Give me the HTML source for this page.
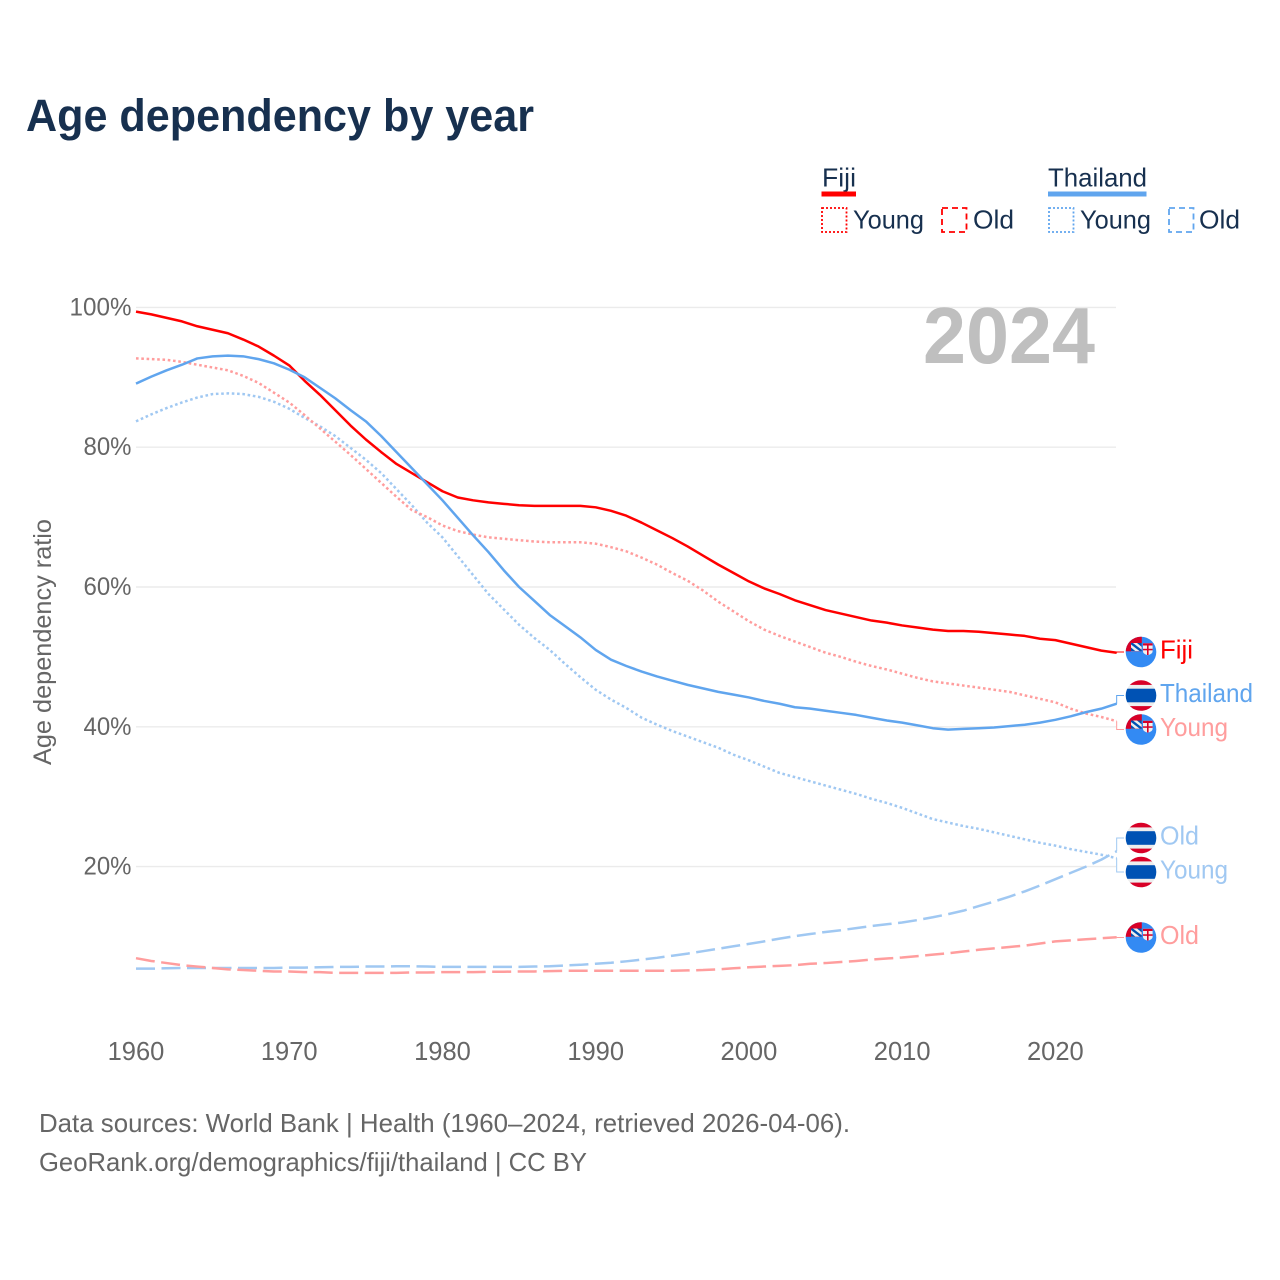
<!DOCTYPE html>
<html lang="en">
<head>
<meta charset="utf-8">
<title>Age dependency by year</title>
<style>
html,body{margin:0;padding:0;background:#fff;}
svg{display:block;font-family:"Liberation Sans",sans-serif;}
</style>
</head>
<body>
<svg id="chart" width="1280" height="1280" viewBox="0 0 1280 1280" xmlns="http://www.w3.org/2000/svg">
  <defs>
    <clipPath id="flag-clip"><circle cx="0" cy="0" r="15.3"></circle></clipPath>
    <clipPath id="union-clip"><rect x="-10" y="-9" width="10.8" height="8.3"></rect></clipPath>
    <g id="flag-th" clip-path="url(#flag-clip)">
      <rect x="-16" y="-16" width="32" height="32" fill="#eeeeee"></rect>
      <rect x="-16" y="-16" width="32" height="5.4" fill="#d80027"></rect>
      <rect x="-16" y="10.6" width="32" height="5.4" fill="#d80027"></rect>
      <rect x="-16" y="-6.8" width="32" height="13.6" fill="#0052b4"></rect>
    </g>
    <g id="flag-fj" clip-path="url(#flag-clip)">
      <rect x="-16" y="-16" width="32" height="32" fill="#338af3"></rect>
      <rect x="-16" y="-16" width="16.8" height="15.3" fill="#d80027"></rect>
      <g clip-path="url(#union-clip)">
        <rect x="-10" y="-9" width="10.8" height="8.3" fill="#eeeeee"></rect>
        <path d="M-10 -9 L0.8 -0.7" stroke="#0052b4" stroke-width="2.4" fill="none"></path>
        <path d="M-10 -1 L-5.5 -0.7 L-10 -4.5 Z" fill="#0052b4"></path>
        <path d="M-4 -9 L0.8 -9 L0.8 -5 Z" fill="#0052b4"></path>
      </g>
      <path d="M2 -8.7 H11.6 V-0.5 Q11.6 2 6.8 3.2 Q2 2 2 -0.5 Z" fill="#f0f0f0"></path>
      <rect x="2" y="-8.7" width="9.6" height="2.2" fill="#d80027"></rect>
      <rect x="6" y="-6.5" width="1.6" height="9.5" fill="#d80027"></rect>
      <rect x="2" y="-3.2" width="9.6" height="1.5" fill="#d80027"></rect>
    </g>
  </defs>

  <rect x="0" y="0" width="1280" height="1280" fill="#ffffff"></rect>

  <text x="26" y="131" font-size="45" font-weight="700" fill="#17304f" textLength="508" lengthAdjust="spacingAndGlyphs">Age dependency by year</text>

  <g font-size="26" fill="#17304f">
    <text x="822" y="186.5" textLength="34" lengthAdjust="spacingAndGlyphs">Fiji</text>
    <rect x="821.5" y="191.5" width="34.5" height="5" fill="#ff0000"></rect>
    <text x="1048" y="186.5" textLength="99" lengthAdjust="spacingAndGlyphs">Thailand</text>
    <rect x="1048" y="191.5" width="98.5" height="5" fill="#60a5ee"></rect>

    <rect x="822" y="208" width="24.5" height="24" fill="none" stroke="#ff0000" stroke-width="1.8" stroke-dasharray="2 2"></rect>
    <text x="853" y="228.5" textLength="71" lengthAdjust="spacingAndGlyphs">Young</text>
    <rect x="942" y="208" width="24.5" height="24" fill="none" stroke="#ff0000" stroke-width="1.8" stroke-dasharray="6 4"></rect>
    <text x="973" y="228.5" textLength="41" lengthAdjust="spacingAndGlyphs">Old</text>
    <rect x="1049" y="208" width="24.5" height="24" fill="none" stroke="#60a5ee" stroke-width="1.8" stroke-dasharray="2 2"></rect>
    <text x="1080" y="228.5" textLength="71" lengthAdjust="spacingAndGlyphs">Young</text>
    <rect x="1169" y="208" width="24.5" height="24" fill="none" stroke="#60a5ee" stroke-width="1.8" stroke-dasharray="6 4"></rect>
    <text x="1199" y="228.5" textLength="41" lengthAdjust="spacingAndGlyphs">Old</text>
  </g>

  <g id="grid"></g>
  <g id="y-ticks"></g>
  <g id="x-ticks"></g>

  <text transform="translate(51 765) rotate(-90)" font-size="25" fill="#666666" textLength="246" lengthAdjust="spacingAndGlyphs">Age dependency ratio</text>

  <text x="1095" y="363" text-anchor="end" font-size="80" font-weight="700" fill="#bfbfbf" textLength="172" lengthAdjust="spacingAndGlyphs">2024</text>

  <g id="series"></g>
  <g id="leaders"></g>
  <g id="end-labels"></g>

  <g font-size="26" fill="#666666">
    <text x="39" y="1132" textLength="811" lengthAdjust="spacingAndGlyphs">Data sources: World Bank | Health (1960–2024, retrieved 2026-04-06).</text>
    <text x="39" y="1171" textLength="548" lengthAdjust="spacingAndGlyphs">GeoRank.org/demographics/fiji/thailand | CC BY</text>
  </g>
</svg>

<script>
var startYear = 1960;
var xTickYears = [1960, 1970, 1980, 1990, 2000, 2010, 2020];
var yTickValues = [20, 40, 60, 80, 100];
var yTickLabels = ['20%', '40%', '60%', '80%', '100%'];

var fijiTotal = [99.4,99.0,98.5,98.0,97.3,96.8,96.3,95.4,94.4,93.1,91.7,89.5,87.5,85.3,83.1,81.1,79.3,77.6,76.3,75.0,73.7,72.8,72.4,72.1,71.9,71.7,71.6,71.6,71.6,71.6,71.4,70.9,70.2,69.2,68.1,67.0,65.8,64.5,63.2,62.0,60.8,59.8,59.0,58.1,57.4,56.7,56.2,55.7,55.2,54.9,54.5,54.2,53.9,53.7,53.7,53.6,53.4,53.2,53.0,52.6,52.4,51.9,51.4,50.9,50.6];
var fijiYoung = [92.7,92.6,92.5,92.2,91.8,91.4,91.0,90.2,89.2,87.8,86.4,84.6,82.7,80.8,78.9,76.9,74.9,72.9,71.0,70.0,68.8,68.0,67.5,67.1,66.9,66.7,66.5,66.4,66.4,66.4,66.2,65.7,65.1,64.2,63.2,62.0,60.9,59.5,57.9,56.5,55.1,53.9,53.0,52.2,51.4,50.6,50.0,49.3,48.7,48.2,47.6,47.0,46.5,46.2,45.9,45.6,45.3,45.0,44.5,44.0,43.5,42.6,41.9,41.4,40.8];
var fijiOld = [6.9,6.5,6.2,5.9,5.7,5.5,5.3,5.2,5.1,5.0,5.0,4.9,4.9,4.8,4.8,4.8,4.8,4.8,4.85,4.85,4.9,4.9,4.9,4.95,4.95,5.0,5.0,5.05,5.1,5.1,5.1,5.1,5.1,5.1,5.1,5.1,5.15,5.2,5.3,5.45,5.6,5.7,5.8,5.9,6.1,6.2,6.35,6.5,6.7,6.85,7.0,7.2,7.4,7.6,7.85,8.1,8.3,8.5,8.7,9.0,9.3,9.45,9.6,9.75,9.9];
var thailandTotal = [89.1,90.1,91.0,91.8,92.7,93.0,93.1,93.0,92.6,92.0,91.1,90.0,88.5,87.0,85.3,83.7,81.6,79.3,77.0,74.7,72.4,69.9,67.4,65.0,62.4,60.0,58.0,56.0,54.4,52.8,51.0,49.6,48.7,47.9,47.2,46.6,46.0,45.5,45.0,44.6,44.2,43.7,43.3,42.8,42.6,42.3,42.0,41.7,41.3,40.9,40.6,40.2,39.8,39.6,39.7,39.8,39.9,40.1,40.3,40.6,41.0,41.5,42.1,42.6,43.3];
var thailandYoung = [83.7,84.7,85.6,86.4,87.1,87.6,87.7,87.6,87.2,86.5,85.5,84.2,83.0,81.6,79.9,78.2,76.3,74.0,71.7,69.2,67.1,64.4,61.7,59.0,56.8,54.6,52.7,51.0,49.0,47.1,45.3,43.9,42.7,41.3,40.3,39.4,38.6,37.8,37.0,36.0,35.2,34.3,33.4,32.8,32.2,31.6,31.0,30.4,29.7,29.1,28.4,27.6,26.8,26.3,25.8,25.4,24.9,24.4,23.9,23.4,23.0,22.5,22.1,21.7,21.2];
var thailandOld = [5.4,5.4,5.45,5.5,5.5,5.5,5.5,5.5,5.5,5.5,5.55,5.55,5.6,5.65,5.65,5.7,5.7,5.75,5.75,5.7,5.65,5.65,5.65,5.65,5.65,5.65,5.7,5.75,5.85,5.95,6.1,6.25,6.45,6.7,6.95,7.25,7.55,7.9,8.25,8.6,8.95,9.3,9.7,10.05,10.35,10.65,10.9,11.2,11.5,11.75,12.0,12.35,12.75,13.2,13.7,14.35,15.0,15.7,16.45,17.3,18.2,19.1,20.0,21.0,22.2];

var SVG_NS = 'http://www.w3.org/2000/svg';
var RED = '#ff0000', BLUE = '#60a5ee', RED_LIGHT = '#ff9d9d', BLUE_LIGHT = '#a0c8f2';

function xScale(year) { return 136 + (year - 1960) * 15.323; }
function yScale(pct) { return 1006.4 - pct * 6.99; }

function make(tag, parent, attrs) {
  var el = document.createElementNS(SVG_NS, tag);
  for (var k in attrs) { el.setAttribute(k, attrs[k]); }
  parent.appendChild(el);
  return el;
}

var gridGroup = document.getElementById('grid');
var yTickGroup = document.getElementById('y-ticks');
yTickValues.forEach(function (v, i) {
  var line = make('line', gridGroup, { x1: 136, x2: 1116, y1: yScale(v), y2: yScale(v), stroke: '#ebebeb', 'stroke-width': 1.4 });
  
  
  var t = make('text', yTickGroup, { x: 131.5, y: yScale(v) + 8, 'text-anchor': 'end', 'font-size': 25, fill: '#666666', textLength: yTickLabels[i].length === 4 ? 62 : 48, lengthAdjust: 'spacingAndGlyphs' });
  t.textContent = yTickLabels[i];
  
  
});

var xTickGroup = document.getElementById('x-ticks');
xTickYears.forEach(function (yr) {
  var t = make('text', xTickGroup, { x: xScale(yr), y: 1060, 'text-anchor': 'middle', 'font-size': 25.5, fill: '#666666' });
  t.textContent = String(yr);
  
  
});

function pathFor(values) {
  return values.map(function (v, i) {
    return (i ? 'L' : 'M') + xScale(startYear + i).toFixed(2) + ' ' + yScale(v).toFixed(2);
  }).join(' ');
}

var seriesGroup = document.getElementById('series');
function drawSeries(name, values, color, dash) {
  var p = make('path', seriesGroup, { d: pathFor(values), fill: 'none', stroke: color, 'stroke-width': 2.5, 'stroke-linejoin': 'round' });
  if (dash) { p.setAttribute('stroke-dasharray', dash); }
  
  
}

var DOTS = '2.6 2.7', DASHES = '19 6.5';
drawSeries('line-thailand-old', thailandOld, BLUE_LIGHT, DASHES);
drawSeries('line-fiji-old', fijiOld, RED_LIGHT, DASHES);
drawSeries('line-thailand-young', thailandYoung, BLUE_LIGHT, DOTS);
drawSeries('line-fiji-young', fijiYoung, RED_LIGHT, DOTS);
drawSeries('line-fiji-total', fijiTotal, RED, null);
drawSeries('line-thailand-total', thailandTotal, BLUE, null);

var leaderGroup = document.getElementById('leaders');
var labelGroup = document.getElementById('end-labels');
function drawEndLabel(name, values, labelCenterY, color, flagId, text, width) {
  var endY = yScale(values[values.length - 1]);
  var endX = xScale(startYear + values.length - 1);
  var leader = make('path', leaderGroup, { d: 'M' + endX + ' ' + endY + ' V' + labelCenterY + ' H1124', fill: 'none', stroke: color, 'stroke-width': 1 });
  
  
  var flag = make('use', labelGroup, { href: '#' + flagId, x: 1141, y: labelCenterY });
  
  
  var t = make('text', labelGroup, { x: 1160, y: labelCenterY + 6.5, 'font-size': 26, fill: color, textLength: width, lengthAdjust: 'spacingAndGlyphs' });
  t.textContent = text;
  
  
}

drawEndLabel('fiji-total', fijiTotal, 652, RED, 'flag-fj', 'Fiji', 33);
drawEndLabel('fiji-young', fijiYoung, 729.5, RED_LIGHT, 'flag-fj', 'Young', 68);
drawEndLabel('thailand-total', thailandTotal, 695.5, BLUE, 'flag-th', 'Thailand', 93);
drawEndLabel('thailand-old', thailandOld, 838, BLUE_LIGHT, 'flag-th', 'Old', 39);
drawEndLabel('thailand-young', thailandYoung, 872, BLUE_LIGHT, 'flag-th', 'Young', 68);
drawEndLabel('fiji-old', fijiOld, 937.5, RED_LIGHT, 'flag-fj', 'Old', 39);
</script>
</body>
</html>
